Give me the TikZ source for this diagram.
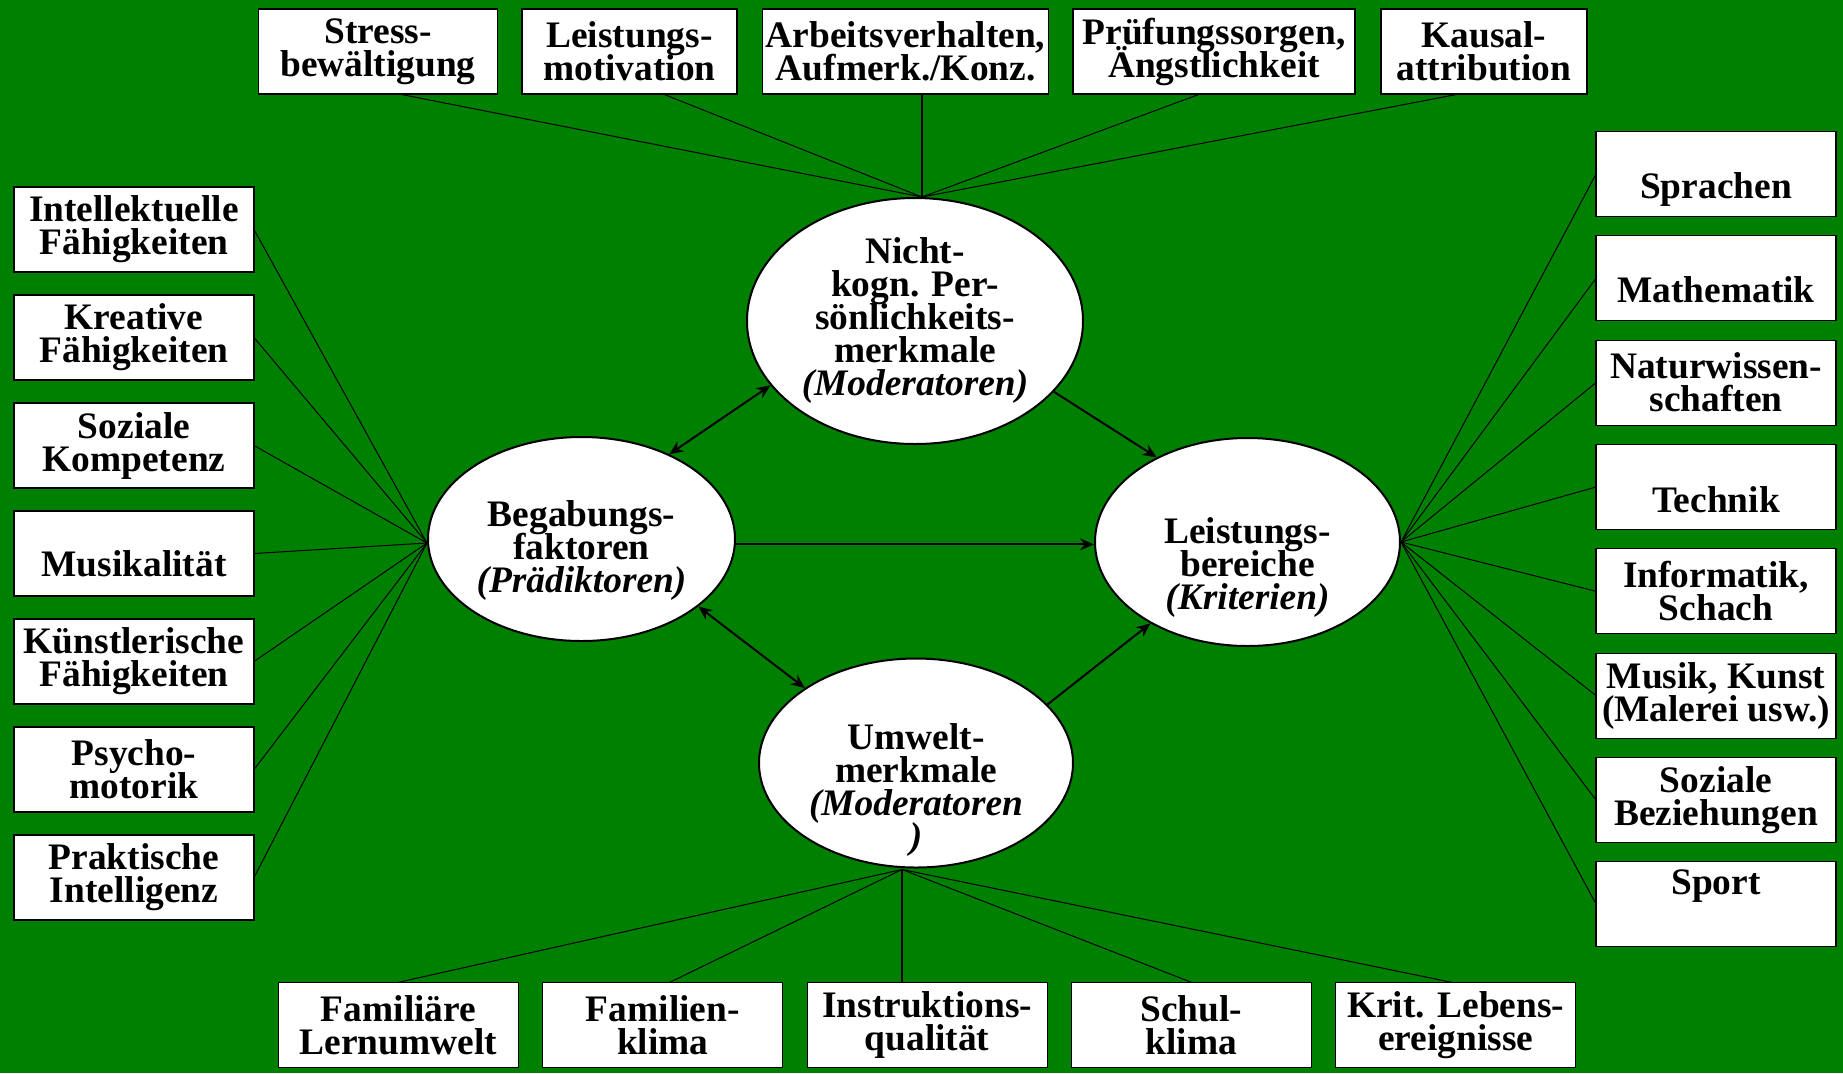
\documentclass[tikz,border=0pt]{standalone}
\usepackage{fontspec}
\setmainfont{Liberation Serif}
\usetikzlibrary{arrows.meta,calc,shapes.geometric}
\definecolor{bg}{RGB}{0,128,0}
\lineskiplimit=-100pt
\newcommand{\padlow}[1]{\rule[-#1]{0pt}{0pt}}
\begin{document}
\begin{tikzpicture}[x=0.5pt,y=-0.5pt,
  every node/.style={font=\fontsize{18.7pt}{16.5pt}\selectfont\bfseries},
  box/.style={draw=black, line width=0.6pt, fill=white, minimum height=42.5pt, inner sep=0pt, align=center, outer sep=0pt},
  lbox/.style={box, minimum width=120pt},
  ell/.style={draw=black, fill=white, ellipse, line width=1pt, inner sep=0pt},
  etext/.style={align=center, inner sep=0pt},
  fan/.style={line width=0.5pt},
  fanv/.style={line width=0.9pt},
  arr/.style={line width=1pt, -{Stealth[length=7pt,width=6pt]}},
  darr/.style={line width=1pt, {Stealth[length=7pt,width=6pt]}-{Stealth[length=7pt,width=6pt]}}]
\fill[bg] (0,0) rectangle (1843,1073);
\useasboundingbox (0,0) rectangle (1843,1073);

% top boxes
\node[box, minimum width=119.5pt] (stress) at (378,51.5) {Stress-\\bewältigung};
\node[box, minimum width=107.5pt] (leimot) at (629.5,51.5) {Leistungs-\\motivation};
\node[box, minimum width=143pt] (arbeit) at (905.6,51.5) {Arbeitsverhalten,\\Aufmerk./Konz.};
\node[box, minimum width=141pt] (pruef) at (1214,51.5) {Prüfungssorgen,\\Ängstlichkeit};
\node[box, minimum width=103pt] (kausal) at (1484,51.5) {Kausal-\\attribution};

% left boxes
\node[lbox] (intel)  at (134,229.5) {Intellektuelle\\Fähigkeiten};
\node[lbox] (krea)   at (134,337.5) {Kreative\\Fähigkeiten};
\node[lbox] (soz)    at (134,445.5) {Soziale\\Kompetenz};
\node[lbox] (musik)  at (134,553.5) {\strut\\Musikalität\padlow{4.7pt}};
\node[lbox] (kuenst) at (134,661.5) {Künstlerische\\Fähigkeiten};
\node[lbox] (psycho) at (134,769.5) {Psycho-\\motorik};
\node[lbox] (prakt)  at (134,877.5) {Praktische\\Intelligenz};

% right boxes
\node[lbox] (sprach) at (1716,174)   {\strut\\Sprachen};
\node[lbox] (math)   at (1716,278.3) {\strut\\Mathematik\padlow{3.5pt}};
\node[lbox] (natur)  at (1716,382.6) {Naturwissen-\\schaften};
\node[lbox] (tech)   at (1716,487)   {\strut\\Technik\padlow{2.4pt}};
\node[lbox] (inform) at (1716,591.3) {Informatik,\\Schach};
\node[lbox] (musikk) at (1716,695.6) {Musik, Kunst\\(Malerei usw.)};
\node[lbox] (sozbez) at (1716,800)   {Soziale\\Beziehungen};
\node[lbox] (sport)  at (1716,904)   {Sport\\\strut};

% bottom boxes
\node[lbox] (fam)   at (398.5,1024.8)  {Familiäre\\Lernumwelt};
\node[lbox] (famkl) at (662.8,1024.8)  {Familien-\\klima};
\node[lbox] (instr) at (927.1,1024.8)  {Instruktions-\\qualität};
\node[lbox] (schul) at (1191.4,1024.8) {Schul-\\klima};
\node[lbox] (krit)  at (1455.7,1024.8) {Krit. Lebens-\\ereignisse};

% ellipses
\node[ell, minimum width=168pt, minimum height=123pt] (nicht) at (915,321) {};
\node[ell, minimum width=153.5pt, minimum height=102pt] (beg) at (581.5,539) {};
\node[ell, minimum width=152.5pt, minimum height=104pt] (leis) at (1247.5,542) {};
\node[ell, minimum width=157pt, minimum height=104.5pt] (umw) at (916,763) {};

\node[etext] (nichtT) at ($(nicht)+(0,-1)$) {Nicht-\\kogn. Per-\\sönlichkeits-\\merkmale\\\textit{(Moderatoren)}};
\node[etext] (begT) at ($(beg)+(0,11)$) {Begabungs-\\faktoren\\\textit{(Prädiktoren)}};
\node[etext] (leisT) at ($(leis)+(0,25.5)$) {Leistungs-\\bereiche\\\textit{(Kriterien)}};
\node[etext] (umwT) at ($(umw)+(0,27)$) {Umwelt-\\merkmale\\\textit{(Moderatoren}\\\textit{)}};

% hubs
\coordinate (nhub) at ($(nicht.north)+(7,0)$);
\coordinate (bhub) at ($(beg.west)+(0,4)$);
\coordinate (lhub) at (leis.east);
\coordinate (uhub) at ($(umw.south)+(-14,1)$);

% top fan
\draw[fan] ($(stress.south)+(21,0)$) -- (nhub);
\draw[fan] ($(leimot.south)+(33.5,0)$) -- (nhub);
\draw[fanv] (nhub) -- (nhub |- arbeit.south);
\draw[fan] ($(pruef.south)+(-14,0)$) -- (nhub);
\draw[fan] ($(kausal.south)+(-25,0)$) -- (nhub);

% left fan
\foreach \n in {intel,krea,soz,musik,kuenst,psycho,prakt}
  \draw[fan] (\n.east) -- (bhub);

% right fan
\foreach \n in {sprach,math,natur,tech,inform,musikk,sozbez,sport}
  \draw[fan] (lhub) -- (\n.west);

% bottom fan
\draw[fan] (uhub) -- (fam.north);
\draw[fan] (uhub) -- ($(famkl.north)+(7,0)$);
\draw[fanv] (uhub) -- (uhub |- instr.north);
\draw[fan] (uhub) -- (schul.north);
\draw[fan] (uhub) -- ($(krit.north)+(-4,0)$);

% arrows
\draw[darr] (beg.44) -- (nicht.204);
\draw[arr] (nicht.333) -- (leis.137.6);
\draw[arr] (beg.-2) -- (beg.-2 -| leis.west);
\draw[darr] (beg.330.6) -- (umw.146.3);
\draw[arr] (umw.24.2) -- (leis.220.4);
\end{tikzpicture}
\end{document}
